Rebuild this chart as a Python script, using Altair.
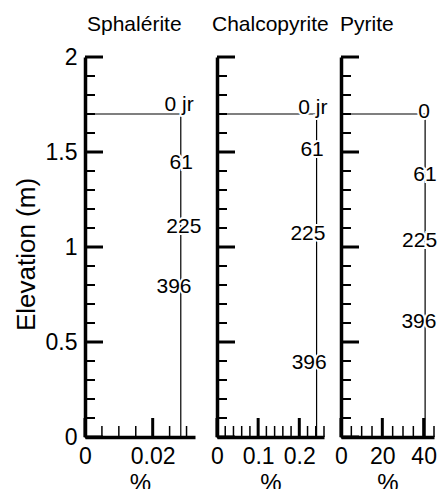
import altair as alt
import pandas as pd

F = "Liberation Sans"

minerals = ["Sphalérite", "Chalcopyrite", "Pyrite"]
x_max = [0.0325, 0.26, 45]
x_major = [[0, 0.02], [0, 0.1, 0.2], [0, 20, 40]]
x_minor = [
    [0.005, 0.01, 0.015, 0.025, 0.03],
    [0.02, 0.04, 0.06, 0.08, 0.12, 0.14, 0.16, 0.18, 0.22, 0.24, 0.26],
    [5, 10, 15, 25, 30, 35, 45],
]
y_major = [0, 0.5, 1, 1.5, 2]
y_minor = [0.1, 0.2, 0.3, 0.4, 0.6, 0.7, 0.8, 0.9, 1.1, 1.2, 1.3, 1.4,
           1.6, 1.7, 1.8, 1.9]

# concentration profile (all dates overlap): value below the front elevation
front_elev = 1.7
profile_conc = [0.0283, 0.242, 40.7]

label_text = [["0 jr", "61", "225", "396"],
              ["0 jr", "61", "225", "396"],
              ["0", "61", "225", "396"]]
label_elev = [[1.75, 1.44, 1.105, 0.79],
              [1.73, 1.51, 1.07, 0.39],
              [1.71, 1.38, 1.03, 0.605]]
label_conc = [[0.0278, 0.0284, 0.0292, 0.0263],
              [0.233, 0.231, 0.221, 0.224],
              [40.2, 40.6, 38.0, 37.7]]

widths = [110, 107, 93]
H = 380
title_dx = [2, -5, -1]


def panel(i):
    xs = alt.Scale(domain=[0, x_max[i]], nice=False, zero=True)
    ys = alt.Scale(domain=[0, 2], nice=False)
    first = i == 0
    xaxis = alt.Axis(values=x_major[i], labelExpr="'' + datum.value",
                     ticks=False, grid=False,
                     domainWidth=3.5, domainColor="black", labelFont=F,
                     labelFontSize=23, labelColor="black", labelPadding=8,
                     labelFlush=False, labelOverlap=False,
                     title="%", titleFont=F, titleFontSize=24,
                     titleFontWeight="normal", titleColor="black",
                     titlePadding=3)
    if first:
        yaxis = alt.Axis(values=y_major, labelExpr="'' + datum.value",
                         ticks=False, grid=False,
                         domainWidth=3.5, domainColor="black", labelFont=F,
                         labelFontSize=23, labelColor="black", labelPadding=8,
                         labelFlush=False, labelOverlap=False,
                         title="Elevation (m)", titleFont=F, titleFontSize=26,
                         titleFontWeight="normal", titleColor="black",
                         titlePadding=6, titleY=197)
    else:
        yaxis = alt.Axis(values=y_major, ticks=False, grid=False, labels=False,
                         domainWidth=3.5, domainColor="black", title=None)

    prof = pd.DataFrame({
        "c": [0, profile_conc[i], profile_conc[i]],
        "e": [front_elev, front_elev, 0],
        "o": [0, 1, 2],
    })
    X = lambda: alt.X("c:Q", scale=xs, axis=xaxis)
    Y = lambda: alt.Y("e:Q", scale=ys, axis=yaxis)
    line = alt.Chart(prof).mark_line(color="black", strokeWidth=1.2).encode(
        x=X(), y=Y(), order="o:Q",
    )

    ymaj = alt.Chart(pd.DataFrame({"e": y_major})).mark_rule(
        color="black", strokeWidth=3).encode(
        y=Y(), x=alt.value(0), x2=alt.value(18))
    ymin = alt.Chart(pd.DataFrame({"e": y_minor})).mark_rule(
        color="black", strokeWidth=2).encode(
        y=Y(), x=alt.value(0), x2=alt.value(10))
    xmaj = alt.Chart(pd.DataFrame({"c": x_major[i]})).mark_rule(
        color="black", strokeWidth=3).encode(
        x=X(), y=alt.value(H), y2=alt.value(H - 19))
    xmin = alt.Chart(pd.DataFrame({"c": x_minor[i]})).mark_rule(
        color="black", strokeWidth=1.5).encode(
        x=X(), y=alt.value(H), y2=alt.value(H - 11))

    lab = pd.DataFrame({"c": label_conc[i], "e": label_elev[i], "t": label_text[i]})
    halo = alt.Chart(lab).mark_text(
        font=F, fontSize=21, fill="white", stroke="white", strokeWidth=4,
        baseline="middle", align="center").encode(x=X(), y=Y(), text="t:N")
    txt = alt.Chart(lab).mark_text(
        font=F, fontSize=21, color="black",
        baseline="middle", align="center").encode(x=X(), y=Y(), text="t:N")

    ttl = alt.Chart(pd.DataFrame({"name": [minerals[i]]})).mark_text(
        font=F, fontSize=21, color="black", align="left",
        baseline="alphabetic").encode(
        x=alt.value(title_dx[i]), y=alt.value(-26), text="name:N")

    return alt.layer(line, ymin, ymaj, xmin, xmaj, halo, txt, ttl).properties(
        width=widths[i], height=H,
    )


inner = alt.hconcat(panel(1), panel(2), spacing=17, bounds="flush")
chart = alt.hconcat(panel(0), inner, spacing=22, bounds="flush").properties(
    autosize=alt.AutoSizeParams(type="none"),
    padding={"left": 77, "top": 49, "right": 352, "bottom": 424},
).configure_view(stroke=None)

chart.save("out.html", embed_options={"renderer": "svg", "actions": False})
